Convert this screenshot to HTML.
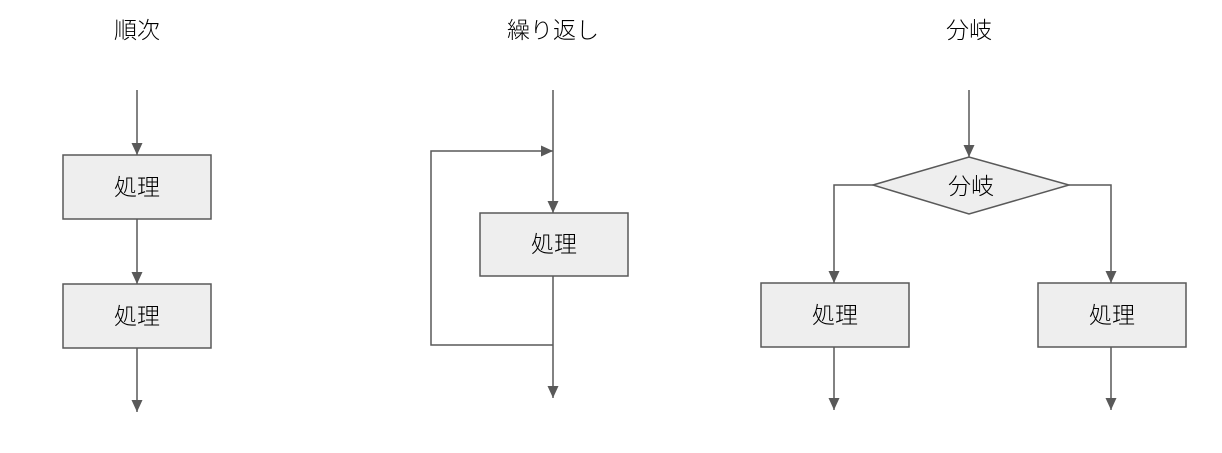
<!DOCTYPE html>
<html><head><meta charset="utf-8"><style>
html,body{margin:0;padding:0;background:#fff;}
svg text{font-family:"Liberation Sans","Noto Sans CJK JP",sans-serif;fill:#000;font-weight:300;}
</style></head><body>
<svg width="1222" height="448" viewBox="0 0 1222 448" xmlns="http://www.w3.org/2000/svg">
<defs>
<marker id="a" markerWidth="12" markerHeight="12" refX="12" refY="5.5" orient="auto" markerUnits="userSpaceOnUse">
<path d="M0,0 L12,5.5 L0,11 Z" fill="#595959"/>
</marker>
</defs>
<g stroke="#595959" stroke-width="1.5" fill="none">
<line x1="137" y1="90" x2="137" y2="155" marker-end="url(#a)"/>
<line x1="137" y1="219" x2="137" y2="284" marker-end="url(#a)"/>
<line x1="137" y1="348" x2="137" y2="412" marker-end="url(#a)"/>
<line x1="553" y1="90" x2="553" y2="213" marker-end="url(#a)"/>
<line x1="553" y1="276" x2="553" y2="398" marker-end="url(#a)"/>
<polyline points="553,345 431,345 431,151 553,151" marker-end="url(#a)"/>
<line x1="969" y1="90" x2="969" y2="157" marker-end="url(#a)"/>
<polyline points="873,185 834,185 834,283" marker-end="url(#a)"/>
<polyline points="1069,185 1111,185 1111,283" marker-end="url(#a)"/>
<line x1="834" y1="347" x2="834" y2="410" marker-end="url(#a)"/>
<line x1="1111" y1="347" x2="1111" y2="410" marker-end="url(#a)"/>
</g>
<g stroke="#595959" stroke-width="1.5" fill="#eeeeee">
<rect x="63" y="155" width="148" height="64"/>
<rect x="63" y="284" width="148" height="64"/>
<rect x="480" y="213" width="148" height="63"/>
<polygon points="873,185 969,157 1069,185 969,214"/>
<rect x="761" y="283" width="148" height="64"/>
<rect x="1038" y="283" width="148" height="64"/>
</g>
<g font-size="23" text-anchor="middle">
<text x="137" y="38">順次</text>
<text x="553" y="38">繰り返し</text>
<text x="969" y="38">分岐</text>
<text x="137" y="195">処理</text>
<text x="137" y="324">処理</text>
<text x="554" y="252">処理</text>
<text x="971" y="194">分岐</text>
<text x="835" y="323">処理</text>
<text x="1112" y="323">処理</text>
</g>
</svg>
</body></html>
